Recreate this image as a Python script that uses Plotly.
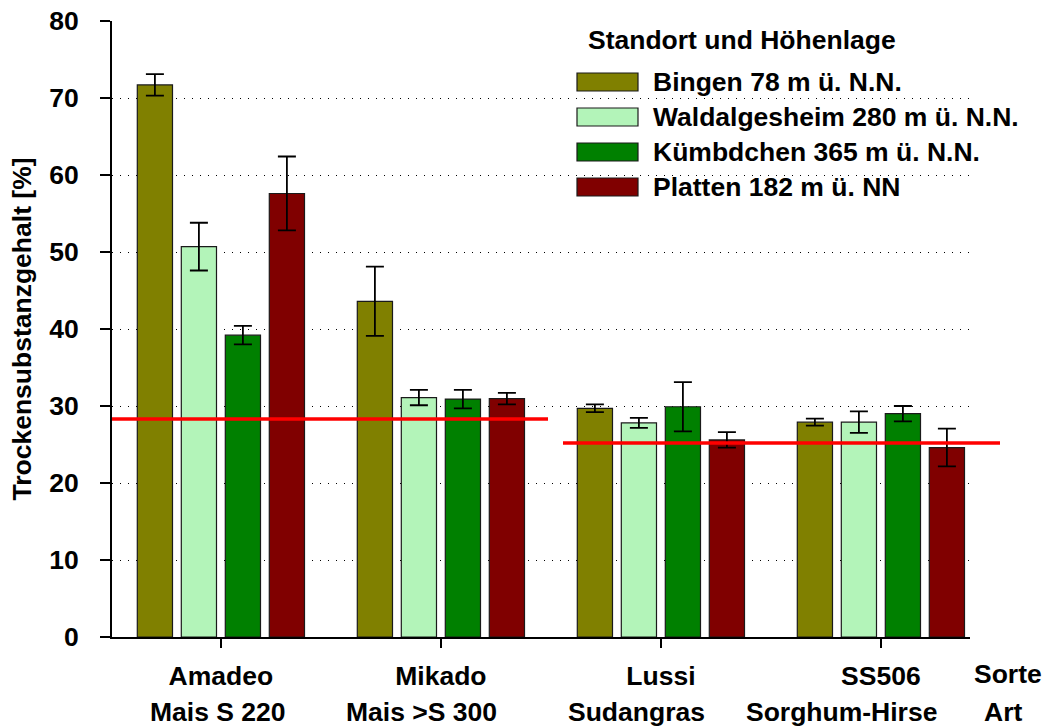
import plotly.graph_objects as go

# ---------------- data ----------------
sorten = ["Amadeo", "Mikado", "Lussi", "SS506"]
arten = ["Mais S 220", "Mais >S 300", "Sudangras", "Sorghum-Hirse"]
standorte = ["Bingen 78 m ü. N.N.", "Waldalgesheim 280 m ü. N.N.",
             "Kümbdchen 365 m ü. N.N.", "Platten 182 m ü. NN"]
bingen = [71.7, 43.6, 29.7, 27.9]
bingen_err = [1.4, 4.5, 0.5, 0.45]
waldalgesheim = [50.7, 31.1, 27.8, 27.9]
waldalgesheim_err = [3.1, 1.0, 0.65, 1.4]
kuembdchen = [39.2, 30.9, 29.9, 29.0]
kuembdchen_err = [1.2, 1.2, 3.2, 1.0]
platten = [57.6, 30.95, 25.6, 24.6]
platten_err = [4.8, 0.75, 1.0, 2.45]
referenz = [28.3, 25.2]          # red reference lines (Mais / Hirse)
y_ticks = [0, 10, 20, 30, 40, 50, 60, 70, 80]

# ---------------- styling ----------------
colors = ["#808000", "#b3f4b9", "#008000", "#800000"]
FONT = "Liberation Sans, Arial, sans-serif"
FS = 26.5
W, H = 1047, 726
L, R, T, B = 112, 77, 21, 89
pw, ph = W - L - R, H - T - B

def px(x):
    return (x - L) / pw

def py(y):
    return (H - B - y) / ph

def bold(size=FS):
    return dict(family=FONT, size=size, color="black", weight="bold")

series = [bingen, waldalgesheim, kuembdchen, platten]
errs = [bingen_err, waldalgesheim_err, kuembdchen_err, platten_err]
xs = list(range(len(sorten)))

fig = go.Figure()
for name, vals, err, col in zip(standorte, series, errs, colors):
    fig.add_trace(go.Bar(
        x=xs, y=vals, name=name,
        marker=dict(color=col, line=dict(color="#1a1a1a", width=1.2)),
        error_y=dict(type="data", array=err, color="black", thickness=1.8, width=9),
        showlegend=False, hoverinfo="skip",
    ))

shapes = []
# red reference lines (y in data units)
ref_x = [(0.0, px(548)), (px(563), px(1000))]
for (x0, x1), val in zip(ref_x, referenz):
    shapes.append(dict(type="line", xref="paper", yref="y", x0=x0, x1=x1, y0=val, y1=val,
                       line=dict(color="#ff0000", width=3.5), layer="above"))

annotations = []
# custom legend
annotations.append(dict(text="Standort und Höhenlage", xref="paper", yref="paper",
                        x=px(586), y=py(40), xanchor="left", yanchor="middle", showarrow=False,
                        font=bold()))
row_y = [82, 117, 152, 187]
for name, col, ry in zip(standorte, colors, row_y):
    shapes.append(dict(type="rect", xref="paper", yref="paper",
                       x0=px(577), x1=px(638), y0=py(ry + 9), y1=py(ry - 9),
                       fillcolor=col, line=dict(color="#1a1a1a", width=1.2)))
    annotations.append(dict(text=name, xref="paper", yref="paper",
                            x=px(651), y=py(ry), xanchor="left", yanchor="middle", showarrow=False,
                            font=bold()))

# second label line (Art)
art_offsets = [-0.014, -0.09, -0.11, -0.18]
for i, (art, off) in enumerate(zip(arten, art_offsets)):
    annotations.append(dict(text=art, xref="x", yref="paper", x=i + off, y=py(712),
                            xanchor="center", yanchor="middle", showarrow=False,
                            font=bold()))
annotations.append(dict(text="Sorte", xref="paper", yref="paper", x=px(1008), y=py(674),
                        xanchor="center", yanchor="middle", showarrow=False, font=bold()))
annotations.append(dict(text="Art", xref="paper", yref="paper", x=px(1003), y=py(712),
                        xanchor="center", yanchor="middle", showarrow=False, font=bold()))

fig.update_layout(
    width=W, height=H,
    margin=dict(l=L, r=R, t=T, b=B, autoexpand=False),
    paper_bgcolor="white", plot_bgcolor="white",
    barmode="group", bargap=0.2, bargroupgap=0.2,
    shapes=shapes, annotations=annotations,
    font=dict(family=FONT, size=FS, color="black"),
    showlegend=False,
)
fig.update_xaxes(
    range=[-0.495, 3.405], tickvals=xs, ticktext=sorten,
    showline=True, linecolor="black", linewidth=1.8,
    ticks="outside", ticklen=9, tickwidth=1.5, tickcolor="black",
    showgrid=False, zeroline=False, ticklabelstandoff=5,
    tickfont=bold(),
)
fig.update_yaxes(
    range=[0, 80], tickvals=y_ticks,
    showline=True, linecolor="black", linewidth=1.8,
    ticks="outside", ticklen=10, tickwidth=1.5, tickcolor="black",
    showgrid=True, gridcolor="black", gridwidth=1.2, griddash="1.2px,6.8px",
    zeroline=False, ticklabelstandoff=16,
    tickfont=bold(),
    title=dict(text="Trockensubstanzgehalt [%]", standoff=10, font=bold()),
)

fig.write_html("out.html", config={"displayModeBar": False},
               post_script="document.body.style.margin='0';")
